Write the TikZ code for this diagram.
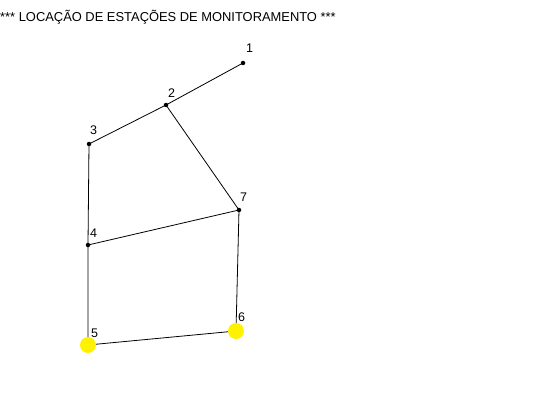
\documentclass[tikz,border=0pt]{standalone}
\usepackage{fontspec}
\setmainfont{Liberation Sans}
\begin{document}
\begin{tikzpicture}[x=1pt,y=-1pt,
  vert/.style={circle,fill=black,inner sep=0pt,minimum size=4.5pt},
  mon/.style={circle,fill=yellow,inner sep=0pt,minimum size=16pt},
  lbl/.style={font=\fontsize{12.5}{13}\selectfont,inner sep=0pt,anchor=base west},
  edge/.style={draw=black,line width=0.8pt}]
\useasboundingbox[fill=white] (0,0) rectangle (560,420);
\node[font=\fontsize{12.9}{13}\selectfont,inner sep=0pt,anchor=base west] (title) at (0,21.5) {*** LOCAÇÃO DE ESTAÇÕES DE MONITORAMENTO ***};
\coordinate (p1) at (243,63);
\coordinate (p2) at (166,105);
\coordinate (p3) at (89,144);
\coordinate (p4) at (88,245);
\coordinate (p5) at (88,345);
\coordinate (p6) at (236,331);
\coordinate (p7) at (239,210);
\draw[edge] (p1) -- (p2) -- (p3) -- (p4) -- (p5) -- (p6) -- (p7) -- (p4);
\draw[edge] (p2) -- (p7);
\node[mon] (n5) at (p5) {};
\node[mon] (n6) at (p6) {};
\foreach \i in {1,2,3,4,7} \node[vert] (v\i) at (p\i) {};
\node[lbl] (l1) at (246,53) {1};
\node[lbl] (l2) at (168,97) {2};
\node[lbl] (l3) at (90,135) {3};
\node[lbl] (l4) at (90,237) {4};
\node[lbl] (l5) at (91,337) {5};
\node[lbl] (l6) at (238,321) {6};
\node[lbl] (l7) at (240,201) {7};
\end{tikzpicture}
\end{document}
